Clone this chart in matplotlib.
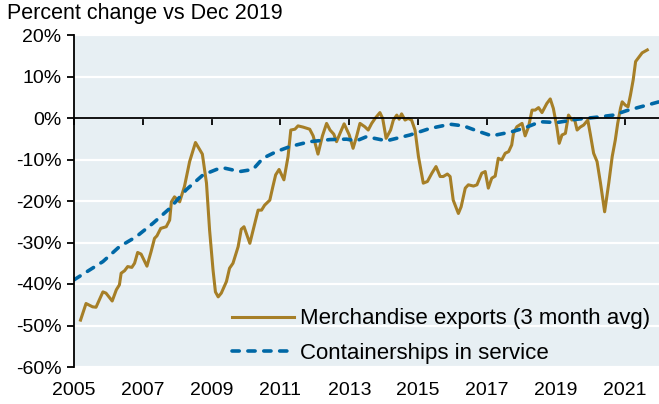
import matplotlib
matplotlib.use('Agg')
import matplotlib.pyplot as plt
from matplotlib.ticker import FuncFormatter

plt.rcParams['font.family'] = ['Liberation Sans', 'DejaVu Sans']

# Exportaciones de mercancías (promedio 3 meses), % vs dic 2019
fechas_export = [2005.19, 2005.35, 2005.54, 2005.64, 2005.84, 2005.93, 2006.11, 2006.23,
                 2006.32, 2006.37, 2006.47, 2006.56, 2006.68, 2006.76, 2006.85, 2006.95,
                 2007.12, 2007.24, 2007.34, 2007.41, 2007.52, 2007.68, 2007.78, 2007.83,
                 2007.92, 2008.07, 2008.21, 2008.36, 2008.53, 2008.73, 2008.85, 2008.94,
                 2009.04, 2009.11, 2009.19, 2009.28, 2009.43, 2009.52, 2009.62, 2009.77,
                 2009.86, 2009.94, 2010.11, 2010.23, 2010.35, 2010.45, 2010.54, 2010.69,
                 2010.78, 2010.86, 2010.96, 2011.10, 2011.22, 2011.30, 2011.42, 2011.51,
                 2011.66, 2011.85, 2011.95, 2012.09, 2012.22, 2012.34, 2012.44, 2012.55,
                 2012.63, 2012.73, 2012.85, 2013.00, 2013.11, 2013.21, 2013.31, 2013.45,
                 2013.55, 2013.65, 2013.75, 2013.89, 2013.97, 2014.07, 2014.20, 2014.28,
                 2014.38, 2014.45, 2014.52, 2014.62, 2014.71, 2014.81, 2014.91, 2015.01,
                 2015.15, 2015.27, 2015.40, 2015.52, 2015.64, 2015.73, 2015.85, 2015.93,
                 2016.02, 2016.17, 2016.25, 2016.37, 2016.46, 2016.61, 2016.71, 2016.85,
                 2016.95, 2017.04, 2017.14, 2017.24, 2017.33, 2017.43, 2017.53, 2017.63,
                 2017.72, 2017.77, 2017.87, 2018.02, 2018.11, 2018.21, 2018.31, 2018.40,
                 2018.50, 2018.60, 2018.69, 2018.74, 2018.84, 2018.93, 2019.03, 2019.10,
                 2019.18, 2019.28, 2019.37, 2019.47, 2019.54, 2019.62, 2019.71, 2019.81,
                 2019.93, 2020.00, 2020.10, 2020.20, 2020.30, 2020.42, 2020.54, 2020.64,
                 2020.73, 2020.80, 2020.88, 2020.93, 2021.02, 2021.10, 2021.17, 2021.25,
                 2021.32, 2021.41, 2021.51, 2021.66]
valores_export = [-48.7, -44.7, -45.5, -45.6, -41.9, -42.2, -44.1, -41.4,
                  -40.2, -37.4, -36.8, -35.8, -36.0, -35.0, -32.4, -32.8,
                  -35.7, -32.2, -29.0, -28.4, -26.6, -26.2, -24.6, -20.2,
                  -19.0, -20.2, -16.5, -10.5, -5.9, -8.7, -15.7, -27.0,
                  -36.6, -41.9, -43.1, -42.2, -39.4, -36.2, -35.0, -31.0,
                  -26.8, -26.2, -30.2, -26.2, -22.2, -22.2, -21.0, -19.8,
                  -16.5, -13.7, -12.4, -14.9, -9.3, -2.9, -2.7, -1.9,
                  -2.2, -2.7, -4.3, -8.7, -4.3, -1.3, -2.9, -3.9,
                  -5.7, -3.7, -1.4, -4.1, -7.3, -4.5, -1.3, -2.1,
                  -2.9, -1.3, -0.1, 1.3, -0.1, -4.9, -2.9, -0.5,
                  0.7, -0.3, 1.0, -0.5, -0.1, -0.5, -2.9, -9.3,
                  -15.7, -15.3, -13.3, -11.7, -14.1, -14.1, -13.5, -14.1,
                  -19.8, -23.0, -21.4, -16.9, -16.1, -16.4, -16.1, -13.3,
                  -12.9, -16.9, -14.5, -14.0, -9.7, -10.1, -8.5, -8.1,
                  -6.5, -3.7, -2.1, -1.3, -4.3, -2.1, 1.9, 1.9,
                  2.5, 1.3, 2.7, 3.5, 4.6, 2.3, -2.1, -6.1,
                  -4.1, -3.7, 0.7, -0.5, -0.1, -2.9, -2.2, -1.7,
                  -0.5, -3.7, -8.5, -10.5, -15.7, -22.6, -15.7, -9.3,
                  -5.3, -1.3, 2.3, 3.9, 3.1, 2.7, 5.5, 9.2,
                  13.6, 14.6, 15.7, 16.4]

# Portacontenedores en servicio, % vs dic 2019
fechas_buques = [2005.00, 2005.84, 2006.32, 2006.81, 2007.29, 2007.78, 2008.26, 2008.75,
                 2009.14, 2009.33, 2009.82, 2010.20, 2010.49, 2010.88, 2011.27, 2011.85,
                 2012.44, 2012.92, 2013.21, 2013.50, 2014.08, 2014.76, 2015.35, 2015.93,
                 2016.32, 2016.71, 2017.14, 2017.68, 2018.06, 2018.55, 2019.03, 2019.62,
                 2020.20, 2020.68, 2021.07, 2021.56, 2022.00]
valores_buques = [-39.0, -34.6, -31.0, -28.6, -25.4, -21.8, -17.3, -13.7,
                  -12.4, -12.0, -12.9, -12.4, -9.7, -8.1, -6.9, -5.7,
                  -5.2, -5.1, -5.5, -4.5, -5.5, -4.1, -2.5, -1.5,
                  -1.9, -3.1, -4.3, -3.4, -2.5, -0.9, -1.1, -0.3,
                  0.2, 0.7, 1.8, 2.9, 3.9]

anios_ticks = [2005, 2007, 2009, 2011, 2013, 2015, 2017, 2019, 2021]
pct_ticks = [20, 10, 0, -10, -20, -30, -40, -50, -60]

color_oro = '#A67F27'
color_azul = '#0068A6'

fig = plt.figure(figsize=(6.59, 4.04), dpi=100)
ax = fig.add_axes([74 / 659, 37 / 404, 585 / 659, 332 / 404])
ax.set_facecolor('#E7EFF3')

ax.set_xlim(2005, 2022)
ax.set_ylim(-60, 20)
ax.set_yticks(pct_ticks)
ax.yaxis.set_major_formatter(FuncFormatter(lambda v, p: f'{v:.0f}%'))
ax.grid(axis='y', color='white', linewidth=1.6)
ax.set_axisbelow(True)

ax.plot(fechas_export, valores_export, color=color_oro, linewidth=2.2,
        solid_joinstyle='round', label='Merchandise exports (3 month avg)')
ax.plot(fechas_buques, valores_buques, color=color_azul, linewidth=2.6,
        linestyle=(0, (2.0, 2.4)), dash_capstyle='round',
        label='Containerships in service')

for lado in ['top', 'right']:
    ax.spines[lado].set_visible(False)
ax.spines['left'].set_linewidth(1.3)
ax.spines['bottom'].set_position(('data', 0))
ax.spines['bottom'].set_linewidth(1.3)
ax.set_xticks(anios_ticks)
ax.tick_params(axis='x', direction='out', length=5, width=1.3, labelbottom=False)
ax.tick_params(axis='y', direction='out', length=5, width=1.3, labelsize=14, pad=4)

eje_x = ax.secondary_xaxis('bottom')
eje_x.set_xticks(anios_ticks)
eje_x.set_xticklabels([str(a) for a in anios_ticks])
eje_x.tick_params(length=0, labelsize=14, pad=11)
eje_x.spines['bottom'].set_visible(False)

ax.legend(loc='lower right', bbox_to_anchor=(1.008, -0.03), frameon=False, fontsize=16,
          handlelength=2.75, handletextpad=0.3, labelspacing=0.6, borderaxespad=0.2)

fig.text(7 / 659, 1 - 19.5 / 404, 'Percent change vs Dec 2019', fontsize=15.5,
         va='baseline', ha='left')

fig.savefig('out.png', dpi=100)
